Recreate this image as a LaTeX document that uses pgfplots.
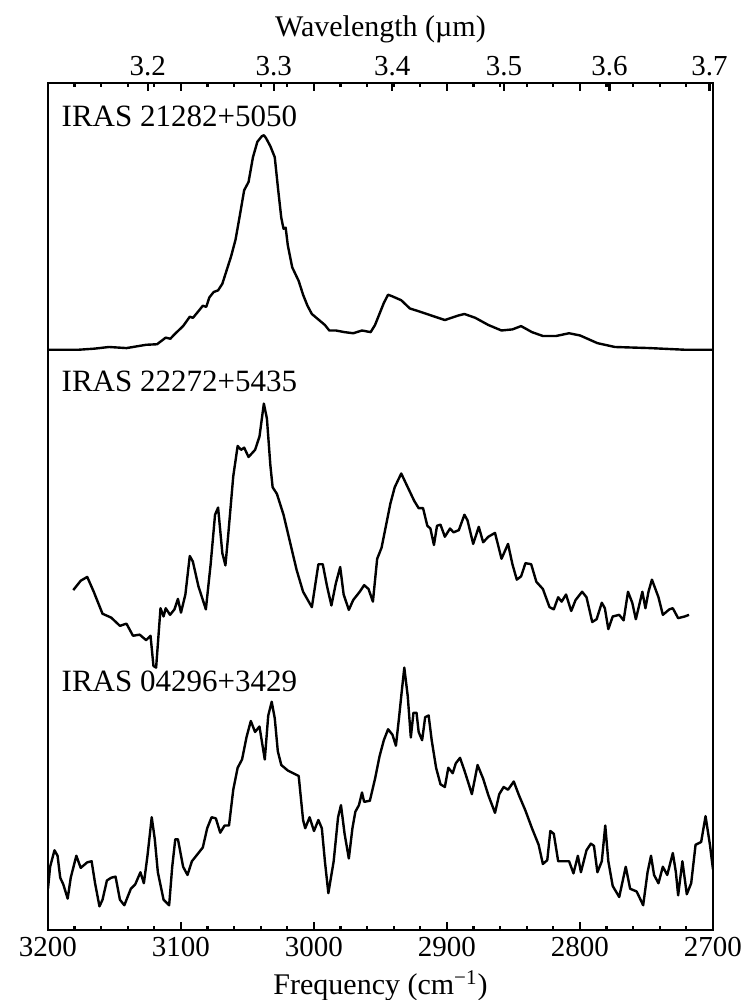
\documentclass[border=0pt]{standalone}
\usepackage{fontspec}
\setmainfont{Liberation Serif}
\usepackage{pgfplots}
\pgfplotsset{compat=1.18}
\pgfplotsset{
  spec/.style={black, line width=1.2pt, line join=round, no markers},
}
\begin{document}
\begin{tikzpicture}
\path[use as bounding box] (-24pt,-35pt) rectangle (353.5pt,465pt);
\begin{axis}[
  at={(0pt,0pt)}, anchor=south west,
  scale only axis, width=332.5pt, height=423.5pt,
  x dir=reverse, xmin=2700, xmax=3200, ymin=5, ymax=1545,
  xtick={2700,2800,...,3200}, minor x tick num=4,
  ytick=\empty,
  xtick pos=both, xticklabel pos=lower,
  tick align=inside,
  major tick length=4pt, minor tick length=2pt,
  axis line style={line width=1.2pt},
  every tick/.style={black, line width=1.1pt},
  every minor tick/.style={black, line width=1.1pt},
  /pgf/number format/1000 sep={},
  /pgf/number format/assume math mode=true,
  ticklabel style={font=\fontsize{14.5}{17}\selectfont},
  xlabel={Frequency (cm\textsuperscript{−1})},
  xlabel style={font=\fontsize{15}{18}\selectfont},
]
\addplot[spec] coordinates {
(3200,1060) (3177.0,1060) (3165,1062) (3154.1,1065) (3141.0,1063) (3126.2,1069) (3118.0,1070)
(3111.5,1082) (3108,1080) (3104.9,1088) (3098.4,1103) (3093.4,1120) (3091,1118) (3086.9,1130)
(3083.6,1140) (3081,1138) (3078.7,1155) (3075.4,1165) (3072.1,1168) (3068.9,1180) (3065.6,1205)
(3062.3,1230) (3059.0,1260) (3055.7,1305) (3052.5,1350) (3049.2,1365) (3045.9,1410) (3042.6,1438)
(3039.3,1448) (3037.7,1450) (3036.1,1445) (3032.8,1430) (3029.5,1410) (3026.9,1350) (3024.6,1300)
(3022.9,1280) (3021.3,1282) (3019.7,1250) (3016.4,1210) (3011.5,1185) (3008.2,1160) (3004.9,1140)
(3001.6,1125) (2996.7,1115) (2991.8,1105) (2988.5,1095) (2983.6,1095) (2977.0,1092) (2970.5,1090)
(2963.9,1095) (2957.4,1092) (2954.1,1105) (2950.8,1125) (2947.5,1145) (2944.3,1160) (2941.0,1157)
(2934.4,1150) (2927.9,1135) (2921.3,1130) (2911.5,1122) (2901.6,1114) (2891.8,1122) (2886.9,1125)
(2878.7,1118) (2868.9,1105) (2859.0,1095) (2850.8,1097) (2844.3,1103) (2836.1,1092) (2827.9,1085)
(2818.0,1085) (2808.2,1090) (2800.0,1086) (2786.9,1072) (2773.8,1065) (2747.5,1063) (2721.3,1060)
(2700,1060)
};
\addplot[spec] coordinates {
(3181.0,623) (3175.4,640) (3170.5,647) (3165.6,620) (3159.0,580) (3152.5,573) (3145.9,558)
(3141.0,562) (3136.1,540) (3131.1,542) (3126.2,532) (3122.9,540) (3120.7,485) (3118.7,482)
(3115.4,590) (3113.1,575) (3111.5,590) (3108.2,578) (3104.9,588) (3102.3,607) (3100.0,582)
(3096.7,615) (3093.4,685) (3091.1,675) (3086.9,630) (3081.3,588) (3077.7,670) (3074.4,760)
(3072.1,773) (3068.9,690) (3066.6,668) (3064.6,720) (3060.7,830) (3057.4,885) (3054.8,878)
(3052.5,882) (3049.2,865) (3044.3,878) (3041.0,902) (3037.7,962) (3035.4,935) (3032.8,850)
(3031.1,810) (3027.9,798) (3022.9,760) (3018.0,710) (3013.1,660) (3008.2,620) (3001.6,592)
(2996.7,670) (2993.4,670) (2990.2,630) (2986.9,595) (2983.6,635) (2980.3,665) (2977.7,615)
(2973.8,587) (2970.5,605) (2965.6,620) (2962.3,632) (2959.0,625) (2955.7,602) (2952.5,680)
(2949.2,700) (2945.9,740) (2942.6,780) (2939.3,810) (2934.4,835) (2929.5,810) (2924.6,785)
(2921.3,772) (2918.0,772) (2914.8,740) (2912.5,735) (2909.8,705) (2907.5,740) (2904.9,742)
(2901.6,720) (2897.7,735) (2895.1,728) (2891.1,732) (2886.9,760) (2884.6,750) (2880.3,707)
(2876.1,738) (2872.8,710) (2868.9,720) (2863.9,727) (2859.0,680) (2854.1,707) (2850.8,670)
(2847.5,642) (2844.3,648) (2841.0,672) (2836.7,670) (2832.8,638) (2827.9,625) (2822.9,592)
(2819.7,588) (2816.4,610) (2813.8,602) (2810.5,615) (2806.6,585) (2803.3,605) (2798.4,620)
(2795.1,610) (2790.8,565) (2787.5,570) (2783.6,600) (2781.3,590) (2778.7,552) (2775.4,575)
(2770.5,578) (2767.2,568) (2763.9,620) (2760.7,600) (2758.0,570) (2753.1,620) (2750.8,590)
(2748.5,620) (2745.9,642) (2741.0,610) (2737.7,578) (2732.8,588) (2730.2,590) (2726.2,572)
(2721.3,575) (2718.0,578)
};
\addplot[spec] coordinates {
(3200,80) (3198.4,120) (3195.1,150) (3192.8,140) (3190.8,100) (3188.5,88) (3185.2,62)
(3182.9,100) (3178.7,140) (3175.4,118) (3170.5,128) (3167.2,130) (3164.6,90) (3161.3,48)
(3159.0,60) (3155.7,95) (3152.5,100) (3149.2,102) (3145.9,60) (3142.6,50) (3137.7,80)
(3134.4,88) (3130.5,110) (3127.9,90) (3125.2,140) (3122.0,210) (3119.7,170) (3117.4,110)
(3113.1,60) (3108.9,50) (3106.6,120) (3104.3,170) (3102.3,170) (3098.4,120) (3095.1,105)
(3091.8,130) (3088.5,140) (3083.6,155) (3080.3,190) (3077.0,210) (3073.8,208) (3070.5,182)
(3067.2,195) (3063.9,195) (3060.7,260) (3057.4,300) (3054.1,315) (3050.8,355) (3047.5,385)
(3044.3,365) (3041.0,375) (3037.0,315) (3034.4,395) (3031.8,420) (3029.5,390) (3027.2,330)
(3024.6,305) (3019.7,295) (3011.5,285) (3008.2,205) (3006.6,190) (3003.3,210) (3000.0,185)
(2996.7,205) (2994.1,190) (2991.8,130) (2989.2,72) (2985.2,130) (2981.9,210) (2979.7,232)
(2977.0,180) (2973.8,135) (2971.1,190) (2968.9,220) (2966.2,232) (2963.9,255) (2962.3,238)
(2958.0,240) (2954.1,280) (2950.8,320) (2947.5,350) (2944.3,370) (2941.0,360) (2938.4,340)
(2936.1,390) (2934.4,430) (2932.1,482) (2929.5,430) (2927.2,355) (2925.2,400) (2922.9,400)
(2921.3,365) (2918.7,350) (2916.4,392) (2913.8,395) (2911.5,350) (2908.2,300) (2904.9,270)
(2901.6,265) (2899.0,300) (2895.7,290) (2893.4,308) (2890.2,318) (2886.9,295) (2883.6,270)
(2881.3,252) (2877.0,305) (2872.8,280) (2868.9,250) (2863.9,218) (2860.7,252) (2857.4,265)
(2854.1,260) (2849.8,275) (2845.9,250) (2841.0,222) (2836.1,190) (2831.1,160) (2827.9,125)
(2824.6,132) (2822.3,185) (2819.7,180) (2816.4,130) (2811.5,130) (2808.2,130) (2804.9,108)
(2801.6,140) (2799.3,110) (2795.1,150) (2791.8,162) (2789.5,158) (2786.9,110) (2783.6,130)
(2781.0,195) (2778.7,130) (2775.4,85) (2770.5,65) (2765.6,120) (2762.3,80) (2757.4,75)
(2752.5,50) (2749.2,110) (2746.6,140) (2744.3,105) (2741.0,90) (2737.7,120) (2734.4,105)
(2730.2,145) (2727.9,110) (2726.2,68) (2723.0,130) (2719.7,70) (2716.4,90) (2713.1,160)
(2708.9,165) (2705.6,212) (2702.3,160) (2700.0,115)
};
\node[anchor=west, inner sep=0pt, font=\fontsize{15.5}{18}\selectfont] at (axis cs:3190,1485) {IRAS 21282+5050};
\node[anchor=west, inner sep=0pt, font=\fontsize{15.5}{18}\selectfont] at (axis cs:3190,1002) {IRAS 22272+5435};
\node[anchor=west, inner sep=0pt, font=\fontsize{15.5}{18}\selectfont] at (axis cs:3190,458) {IRAS 04296+3429};
\end{axis}
\begin{axis}[
  at={(0pt,0pt)}, anchor=south west,
  scale only axis, width=332.5pt, height=423.5pt,
  x dir=reverse, xmin=2700, xmax=3200, ymin=0, ymax=1,
  axis x line*=top, axis y line=none,
  xtick={3125,3030.303,2941.176,2857.143,2777.778,2702.703},
  xticklabels={3.2,3.3,3.4,3.5,3.6,3.7},
  minor tick num=0,
  tick align=inside, major tick length=4pt,
  axis line style={line width=1.2pt},
  every tick/.style={black, line width=1.1pt},
  ticklabel style={font=\fontsize{14.5}{17}\selectfont},
  xlabel={Wavelength (µm)},
  xlabel style={font=\fontsize{15}{18}\selectfont},
]
\end{axis}
\end{tikzpicture}
\end{document}
